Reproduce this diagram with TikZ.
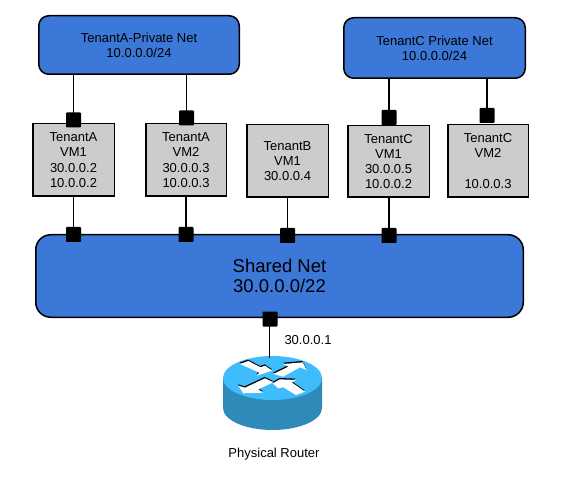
\documentclass[tikz,border=0pt]{standalone}
\usepackage{fontspec}
\setmainfont{Liberation Sans}
\definecolor{netblue}{HTML}{3B78D8}
\definecolor{vmgrey}{HTML}{CCCCCC}
\definecolor{routertop}{HTML}{3FBCFB}
\definecolor{routerside}{HTML}{2F8ABA}
\tikzset{
  netbox/.style={draw=black,fill=netblue,line width=1.5pt,rounded corners=10pt,inner sep=0pt,align=center,font=\fontsize{13}{15}\selectfont},
  sharedbox/.style={netbox,rounded corners=15pt,font=\fontsize{18.5}{20}\selectfont},
  vmbox/.style={draw=black,fill=vmgrey,line width=1.5pt,inner sep=0pt,align=center,font=\fontsize{13}{15.3}\selectfont},
  port/.style={draw=none,fill=black,minimum size=15pt,inner sep=0pt,rounded corners=0.8pt},
  link/.style={line width=1.5pt,draw=black},
  caption/.style={inner sep=0pt,align=center,font=\fontsize{13}{15}\selectfont}
}
\newcommand{\routerarrow}[1]{%
  \fill[black,shift={(-1,-4)}] #1 -- cycle;
  \fill[white] #1 -- cycle;
}
\begin{document}
\begin{tikzpicture}[x=1pt,y=-1pt]
\useasboundingbox (0,0) rectangle (562,478);
% networks
\node[netbox,minimum width=200.5pt,minimum height=58.5pt] (netA) at (139,45) {TenantA-Private Net\\10.0.0.0/24};
\node[netbox,minimum width=181.5pt,minimum height=60.5pt] (netC) at (434.5,48) {TenantC Private Net\\10.0.0.0/24};
\node[sharedbox,minimum width=487.5pt,minimum height=82.5pt] (shared) at (279.5,276) {Shared Net\\30.0.0.0/22};
% VMs
\node[vmbox,minimum width=81.5pt,minimum height=72.5pt] (vmA1) at (73.5,160) {TenantA\\VM1\\30.0.0.2\\10.0.0.2};
\node[vmbox,minimum width=80.5pt,minimum height=72.5pt] (vmA2) at (186,160) {TenantA\\VM2\\30.0.0.3\\10.0.0.3};
\node[vmbox,minimum width=81.5pt,minimum height=72.5pt] (vmB1) at (287.5,161) {TenantB\\VM1\\30.0.0.4};
\node[vmbox,minimum width=81.5pt,minimum height=71.5pt] (vmC1) at (388.5,161.5) {TenantC\\VM1\\30.0.0.5\\10.0.0.2};
\node[vmbox,minimum width=80.5pt,minimum height=72.5pt] (vmC2) at (488,161) {TenantC\\VM2\\\mbox{}\\10.0.0.3};
% router
\coordinate (routerIn) at (269.5,358);
\fill[routerside] (223,378) -- (223,408) arc[start angle=180,end angle=360,x radius=49.5,y radius=-22] -- (322,378) -- cycle;
\fill[routertop] (272.5,378) ellipse[x radius=49.5,y radius=22];
\begin{scope}[shift={(220,350)},x=0.3333pt,y=-0.3333pt]
\routerarrow{(60,42) -- (85,33) -- (122,52) -- (135,47) -- (157,62) -- (110,77) -- (118,68)}
\routerarrow{(160,72) -- (205,50) -- (190,42) -- (248,37) -- (260,60) -- (240,52) -- (190,80)}
\routerarrow{(135,85) -- (160,97) -- (115,118) -- (130,128) -- (70,130) -- (55,107) -- (75,113)}
\routerarrow{(158,100) -- (180,88) -- (228,90) -- (215,97) -- (255,125) -- (228,135) -- (190,112) -- (175,115)}
\end{scope}
% ports
\node[port] (pA1t) at (73.5,120) {};
\node[port] (pA2t) at (186.5,118) {};
\node[port] (pC1t) at (389,117.5) {};
\node[port] (pC2t) at (487,115.5) {};
\node[port] (pA1b) at (73.5,234.5) {};
\node[port] (pA2b) at (186,234.5) {};
\node[port] (pB1b) at (287.5,235.5) {};
\node[port] (pC1b) at (389,235.5) {};
\node[port] (pR) at (270,319) {};
% connectors
\draw[link] (pA1t.center) -- (pA1t.center |- netA.south);
\draw[link] (pA2t.center) -- (pA2t.center |- netA.south);
\draw[link] (pC1t.center) -- (pC1t.center |- netC.south);
\draw[link] (pC2t.center) -- (pC2t.center |- netC.south);
\draw[link] (pA1b.center) -- (pA1b.center |- vmA1.south);
\draw[link] (pA2b.center) -- (pA2b.center |- vmA2.south);
\draw[link] (pB1b.center) -- (pB1b.center |- vmB1.south);
\draw[link] (pC1b.center) -- (pC1b.center |- vmC1.south);
\draw[link] (pR.center) -- (pR.center -| routerIn) -- (routerIn);
% captions
\node[caption] (addr) at (308,340) {30.0.0.1};
\node[caption] (rname) at (274,454) {Physical Router};
\end{tikzpicture}
\end{document}
